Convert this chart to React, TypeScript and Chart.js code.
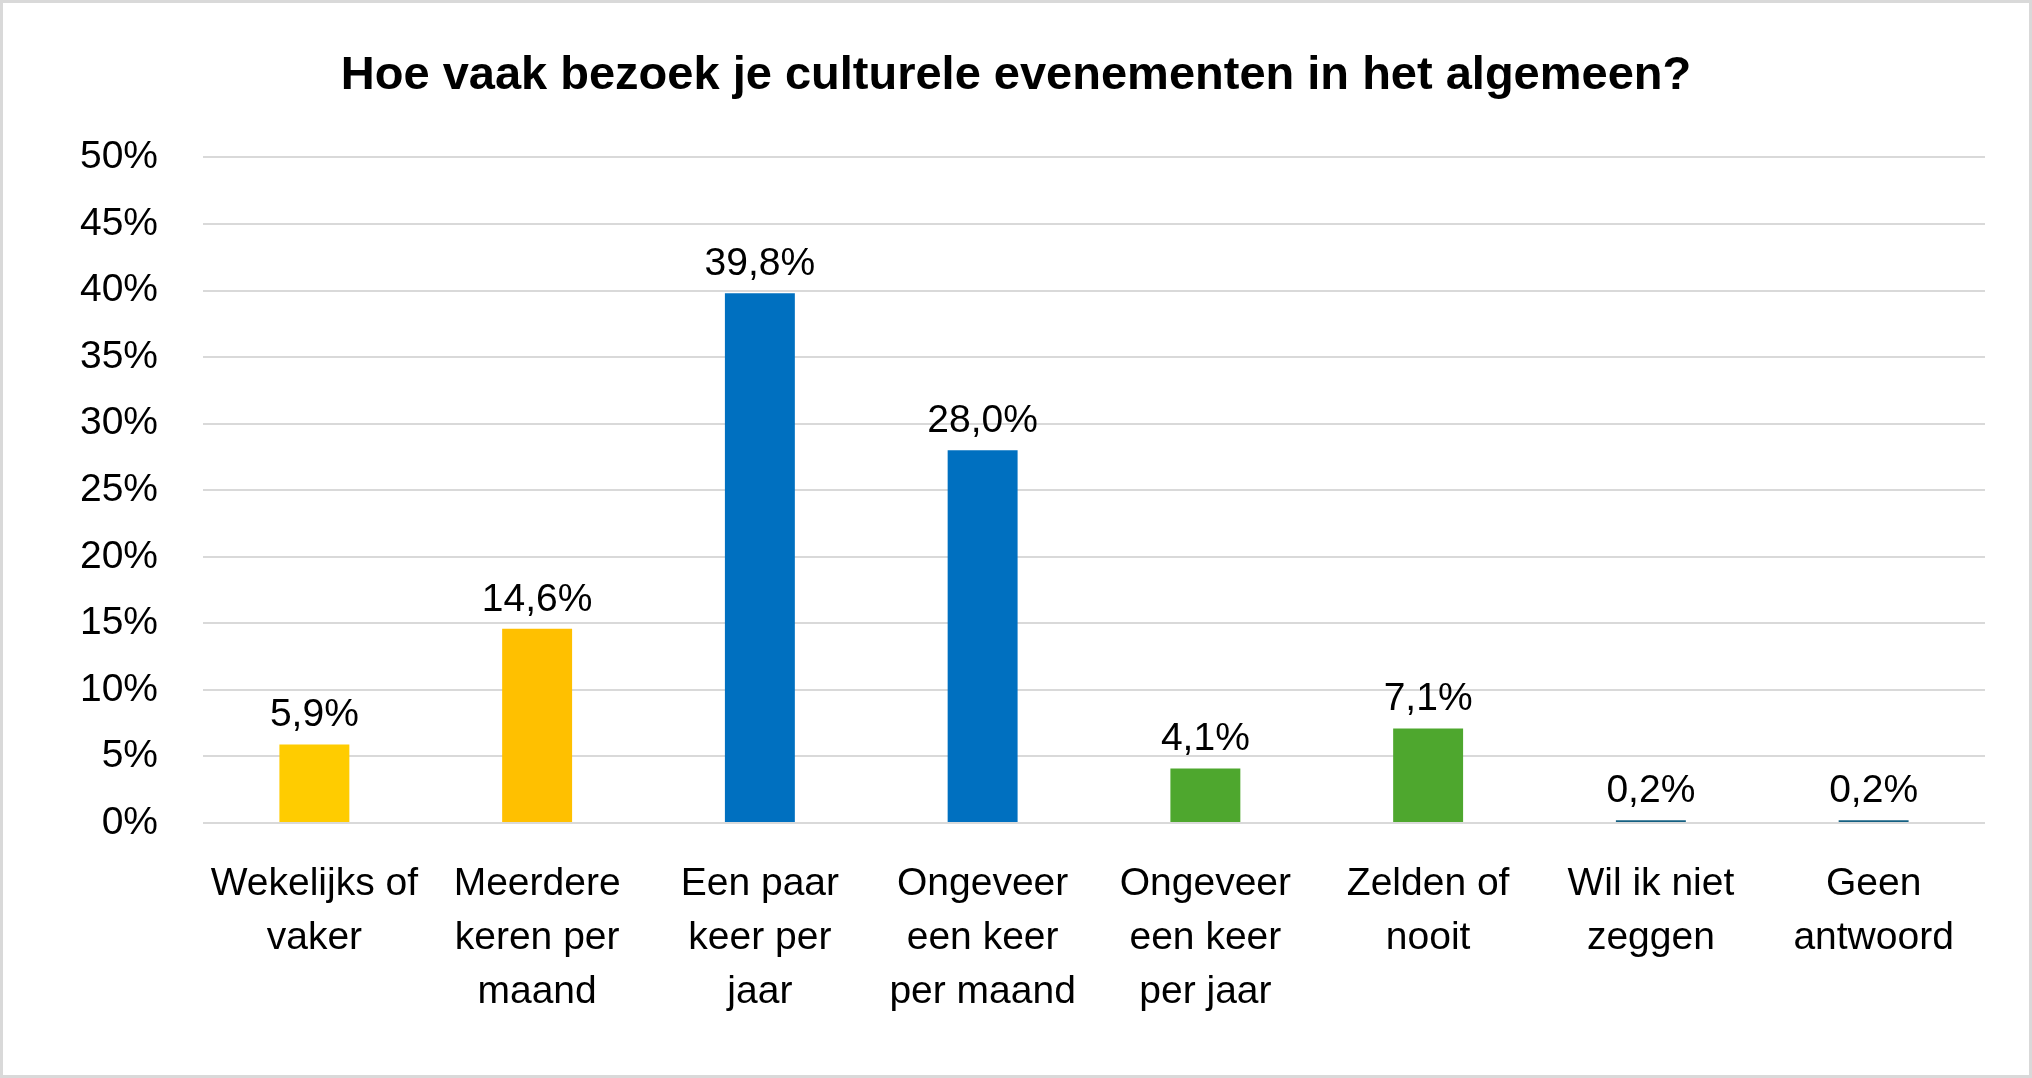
import { useEffect, useRef } from "react"
import { Chart, registerables } from "chart.js"
import type { Plugin } from "chart.js"

Chart.register(...registerables)

const chartTitle = "Hoe vaak bezoek je culturele evenementen in het algemeen?"

const categories: string[][] = [
  ["Wekelijks of", "vaker"],
  ["Meerdere", "keren per", "maand"],
  ["Een paar", "keer per", "jaar"],
  ["Ongeveer", "een keer", "per maand"],
  ["Ongeveer", "een keer", "per jaar"],
  ["Zelden of", "nooit"],
  ["Wil ik niet", "zeggen"],
  ["Geen", "antwoord"],
]

const percentages = [5.9, 14.6, 39.8, 28.0, 4.1, 7.1, 0.2, 0.2]

const barColors = ["#FFCC00", "#FFC000", "#0070C0", "#0070C0", "#4EA72E", "#4EA72E", "#156082", "#156082"]

const FONT = "'Liberation Sans', Arial, sans-serif"

const formatPct = (v: number) => v.toFixed(1).replace(".", ",") + "%"

// labels boven de staven
const valueLabels: Plugin<"bar"> = {
  id: "valueLabels",
  afterDatasetsDraw(chart) {
    const ctx = chart.ctx
    const meta = chart.getDatasetMeta(0)
    ctx.save()
    ctx.font = `39px ${FONT}`
    ctx.fillStyle = "#000000"
    ctx.textAlign = "center"
    ctx.textBaseline = "alphabetic"
    meta.data.forEach((bar, i) => {
      ctx.fillText(formatPct(percentages[i]), bar.x, bar.y - 18)
    })
    ctx.restore()
  },
}

export default function App() {
  const canvasRef = useRef<HTMLCanvasElement>(null)
  const chartInstance = useRef<Chart | null>(null)

  useEffect(() => {
    document.body.style.margin = "0"
    if (!canvasRef.current) return
    if (chartInstance.current) chartInstance.current.destroy()

    chartInstance.current = new Chart(canvasRef.current, {
      type: "bar",
      data: {
        labels: categories,
        datasets: [
          {
            data: percentages,
            backgroundColor: barColors,
            barPercentage: 0.314,
            categoryPercentage: 1,
          },
        ],
      },
      options: {
        animation: false,
        responsive: true,
        maintainAspectRatio: false,
        devicePixelRatio: 1,
        layout: { padding: { left: 47, right: 47, top: 0, bottom: 0 } },
        plugins: {
          legend: { display: false },
          tooltip: { enabled: false },
          title: {
            display: true,
            text: chartTitle,
            color: "#000000",
            font: { family: FONT, size: 47, weight: "bold", lineHeight: 1.2 },
            padding: { top: 48, bottom: 53 },
          },
        },
        scales: {
          x: {
            grid: { display: false },
            border: { display: false },
            ticks: {
              color: "#000000",
              font: { family: FONT, size: 39, lineHeight: 1.385 },
              padding: 26,
              maxRotation: 0,
              autoSkip: false,
            },
            afterFit: (scale) => {
              scale.height = 255
            },
          },
          y: {
            min: 0,
            max: 50,
            grid: { color: "#D9D9D9", lineWidth: 2, drawTicks: false },
            border: { display: false },
            ticks: {
              stepSize: 5,
              color: "#000000",
              font: { family: FONT, size: 39 },
              padding: 45,
              callback: (v) => v + "%",
            },
            afterFit: (scale) => {
              scale.width = 156
            },
          },
        },
      },
      plugins: [valueLabels],
    })

    return () => {
      if (chartInstance.current) {
        chartInstance.current.destroy()
        chartInstance.current = null
      }
    }
  }, [])

  return (
    <div style={{ position: "relative", width: 2032, height: 1078, background: "#ffffff" }}>
      <canvas ref={canvasRef} />
      <div
        style={{
          position: "absolute",
          inset: 0,
          border: "3px solid #D9D9D9",
          boxSizing: "border-box",
          pointerEvents: "none",
        }}
      />
    </div>
  )
}
